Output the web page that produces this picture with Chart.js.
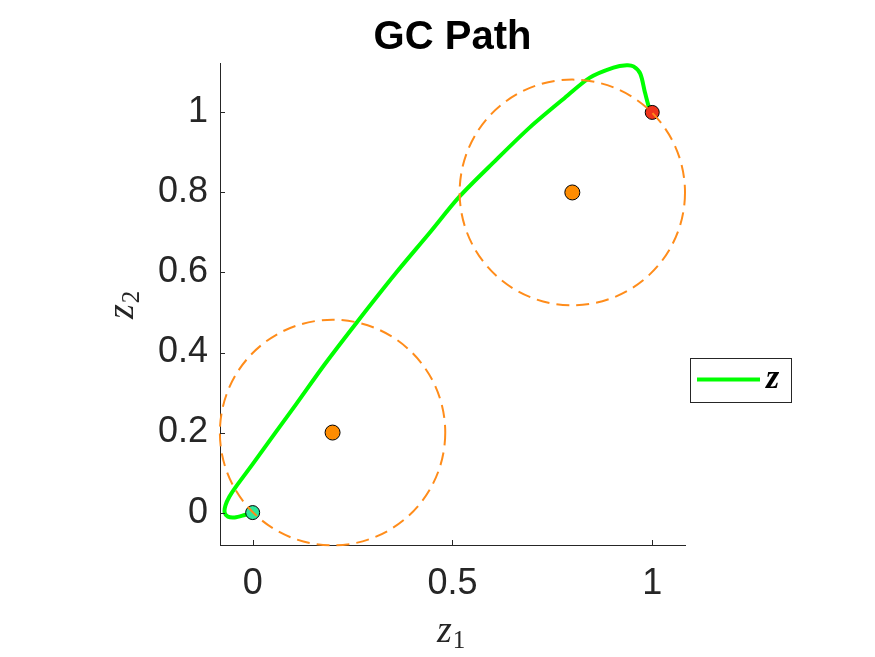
<!DOCTYPE html>
<html>
<head>
<meta charset="utf-8">
<script src="https://cdn.jsdelivr.net/npm/chart.js@4.4.0/dist/chart.umd.min.js"></script>
<style>
  html, body { margin: 0; padding: 0; background: #fff; }
</style>
</head>
<body>
<canvas id="chartPath" width="875" height="657"></canvas>
<script>
// caminho z = (z1, z2)
var pathX = [0, -0.020, -0.045, -0.062, -0.070, -0.068, -0.058, -0.043, 0.000, 0.057, 0.109, 0.180, 0.262, 0.358, 0.442, 0.518, 0.610, 0.693, 0.777, 0.844, 0.903, 0.936, 0.953, 0.970, 0.982, 0.995, 1.000];
var pathY = [0, -0.006, -0.012, -0.010, 0.000, 0.018, 0.040, 0.063, 0.121, 0.200, 0.271, 0.370, 0.477, 0.598, 0.698, 0.790, 0.882, 0.962, 1.033, 1.087, 1.112, 1.118, 1.115, 1.097, 1.049, 1.003, 1.000];

var startPt = [0, 0];
var endPt = [1, 1];

// obstaculos (centro + raio)
var obsX = [0.2, 0.8];
var obsY = [0.2, 0.8];
var obsR = [0.282, 0.282];

var xTicks = [0, 0.5, 1];
var yTicks = [0, 0.2, 0.4, 0.6, 0.8, 1];

var axisColor = '#262626';

var pathPoints = pathX.map(function (x, i) { return { x: x, y: pathY[i] }; });
var obsPoints = obsX.map(function (x, i) { return { x: x, y: obsY[i] }; });

// z com indice (z1, z2)
function drawSub(ctx, sub, x, y) {
    ctx.font = 'italic 38px "Liberation Serif"';
    ctx.fillText('z', x, y);
    var w = ctx.measureText('z').width;
    ctx.font = '25px "Liberation Serif"';
    ctx.fillText(sub, x + w + 1, y + 6);
}

// circulos tracejados, ticks para dentro, titulo, rotulos e legenda
var extras = {
    id: 'extras',
    afterDatasetsDraw: function (chart) {
        var ctx = chart.ctx;
        var xs = chart.scales.x, ys = chart.scales.y;
        ctx.save();
        ctx.strokeStyle = '#ff8c1a';
        ctx.lineWidth = 2;
        ctx.setLineDash([13, 7]);
        for (var i = 0; i < obsX.length; i++) {
            var cx = xs.getPixelForValue(obsX[i]);
            var cy = ys.getPixelForValue(obsY[i]);
            var rx = xs.getPixelForValue(obsX[i] + obsR[i]) - cx;
            var ry = cy - ys.getPixelForValue(obsY[i] + obsR[i]);
            ctx.beginPath();
            ctx.ellipse(cx, cy, rx, ry, 0, 0, Math.PI * 2);
            ctx.stroke();
        }
        ctx.restore();
    },
    afterDraw: function (chart) {
        var ctx = chart.ctx;
        var area = chart.chartArea;
        var xs = chart.scales.x, ys = chart.scales.y;
        ctx.save();

        // ticks para dentro
        ctx.strokeStyle = axisColor;
        ctx.lineWidth = 1;
        ctx.beginPath();
        xTicks.forEach(function (v) {
            var px = Math.round(xs.getPixelForValue(v)) + 0.5;
            ctx.moveTo(px, area.bottom);
            ctx.lineTo(px, area.bottom - 5);
        });
        yTicks.forEach(function (v) {
            var py = Math.round(ys.getPixelForValue(v)) + 0.5;
            ctx.moveTo(area.left, py);
            ctx.lineTo(area.left + 5, py);
        });
        ctx.stroke();

        // titulo
        ctx.fillStyle = '#000';
        ctx.font = 'bold 40px "Liberation Sans"';
        ctx.textAlign = 'center';
        ctx.textBaseline = 'alphabetic';
        ctx.fillText('GC Path', (area.left + area.right) / 2, 49);

        // rotulos dos eixos
        ctx.fillStyle = axisColor;
        ctx.textAlign = 'left';
        drawSub(ctx, '1', 437, 642);

        ctx.save();
        ctx.translate(133, 319);
        ctx.rotate(-Math.PI / 2);
        drawSub(ctx, '2', 0, 0);
        ctx.restore();

        // legenda
        ctx.fillStyle = '#fff';
        ctx.fillRect(690, 358, 101, 44);
        ctx.strokeStyle = axisColor;
        ctx.lineWidth = 1;
        ctx.strokeRect(690.5, 358.5, 101, 44);
        ctx.strokeStyle = '#00ff00';
        ctx.lineWidth = 4;
        ctx.beginPath();
        ctx.moveTo(697, 379.5);
        ctx.lineTo(760, 379.5);
        ctx.stroke();
        ctx.fillStyle = '#000';
        ctx.font = 'bold italic 34px "Liberation Serif"';
        ctx.fillText('z', 766, 388);

        ctx.restore();
    }
};

var ctxPath = document.getElementById('chartPath');

new Chart(ctxPath, {
    type: 'scatter',
    data: {
        datasets: [{
            label: 'inicio',
            data: [{ x: startPt[0], y: startPt[1] }],
            pointRadius: 7,
            pointBackgroundColor: '#2ee89a',
            pointBorderColor: '#000',
            pointBorderWidth: 1,
            order: 1
        }, {
            label: 'fim',
            data: [{ x: endPt[0], y: endPt[1] }],
            pointRadius: 7,
            pointBackgroundColor: '#f0341a',
            pointBorderColor: '#000',
            pointBorderWidth: 1,
            order: 1
        }, {
            label: 'obstaculos',
            data: obsPoints,
            pointRadius: 7.5,
            pointBackgroundColor: '#ff8c00',
            pointBorderColor: '#000',
            pointBorderWidth: 1,
            order: 1
        }, {
            label: 'z',
            data: pathPoints,
            showLine: true,
            pointRadius: 0,
            borderColor: '#00ff00',
            borderWidth: 4,
            borderJoinStyle: 'round',
            borderCapStyle: 'round',
            tension: 0.3,
            order: 2
        }]
    },
    options: {
        responsive: false,
        animation: false,
        devicePixelRatio: 1,
        layout: {
            padding: { left: 0, right: 190, top: 63, bottom: 0 }
        },
        plugins: {
            legend: { display: false },
            title: { display: false },
            tooltip: { enabled: false }
        },
        scales: {
            x: {
                type: 'linear',
                min: -0.0817,
                max: 1.082,
                afterBuildTicks: function (scale) {
                    scale.ticks = xTicks.map(function (v) { return { value: v }; });
                },
                afterFit: function (scale) { scale.height = 112; },
                grid: { display: false, drawTicks: false },
                border: { display: true, color: axisColor, width: 1 },
                ticks: {
                    padding: 17,
                    color: axisColor,
                    font: { family: 'Liberation Sans', size: 36 },
                    callback: function (v) { return String(v); }
                }
            },
            y: {
                type: 'linear',
                min: -0.081,
                max: 1.1235,
                afterBuildTicks: function (scale) {
                    scale.ticks = yTicks.map(function (v) { return { value: v }; });
                },
                afterFit: function (scale) { scale.width = 220; },
                grid: { display: false, drawTicks: false },
                border: { display: true, color: axisColor, width: 1 },
                ticks: {
                    padding: 12,
                    color: axisColor,
                    font: { family: 'Liberation Sans', size: 36 },
                    callback: function (v) { return String(v); }
                }
            }
        }
    },
    plugins: [extras]
});
</script>
</body>
</html>
